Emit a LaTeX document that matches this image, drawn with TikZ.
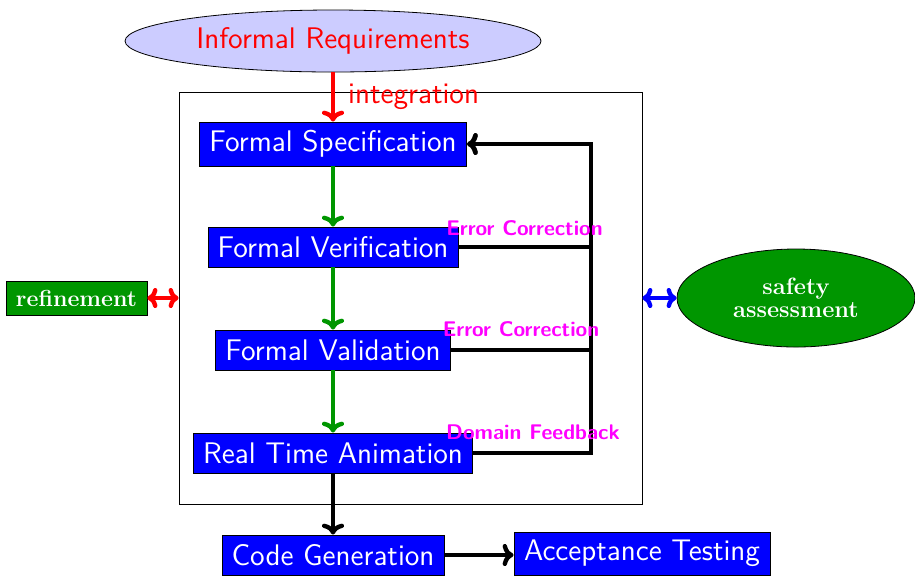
\documentclass[tikz,border=0pt]{standalone}
\usetikzlibrary{shapes.geometric,arrows.meta}
\definecolor{leaf}{RGB}{0,150,0}
\definecolor{pinkish}{RGB}{255,0,255}
\newcommand{\stagefont}{\sffamily\fontsize{14.9}{17}\selectfont}
\begin{document}
\begin{tikzpicture}[x=0.5pt,y=-0.5pt,
  stage/.style={draw=black, fill=blue, text=white, font=\stagefont,
    inner sep=0pt, minimum height=20pt},
  side/.style={draw=black, fill=leaf, text=white, inner sep=0pt},
  note/.style={text=pinkish, font=\sffamily\bfseries\fontsize{10.6}{12}\selectfont, inner sep=0pt},
  tip/.style={-{Computer Modern Rightarrow[length=5.5pt,width=11pt]}},
  both/.style={{Computer Modern Rightarrow[length=5pt,width=10pt]}-{Computer Modern Rightarrow[length=5pt,width=10pt]}},
  flow/.style={line width=2.2pt, tip},
  fb/.style={line width=2.4pt, black}]
\useasboundingbox (0,0) rectangle (915,575);

% surrounding frame of the formal stages
\node[draw=black, thin, minimum width=231.5pt, minimum height=206pt, inner sep=0pt]
  (frame) at (410.5,298) {};

% requirements and stages
\node[ellipse, draw=black, fill=blue!20, text=red, font=\stagefont,
  minimum width=208pt, minimum height=31pt, inner sep=0pt] (req) at (333,41) {Informal Requirements};
\node[stage, minimum width=133.5pt, minimum height=22pt] (spec) at (333,144) {Formal Specification};
\node[stage, minimum width=125pt] (ver) at (333,247) {Formal Verification};
\node[stage, minimum width=117.5pt] (val) at (333,350) {Formal Validation};
\node[stage, minimum width=139.5pt] (anim) at (333,453) {Real Time Animation};
\node[stage, minimum width=111pt] (code) at (333,555) {Code Generation};
\node[stage, minimum width=128pt, minimum height=21.5pt] (acc) at (642,553.5) {Acceptance Testing};

% side nodes
\node[side, font=\bfseries\fontsize{11.6}{13}\selectfont, minimum width=70.5pt, minimum height=17pt]
  (ref) at (76.5,298) {refinement};
\node[side, ellipse, align=center, font=\bfseries\fontsize{11.8}{12}\selectfont,
  minimum width=119pt, minimum height=49pt]
  (safe) at (796,298) {safety\\[-0.3pt]assessment};

% main flow
\draw[flow, red] (req) -- (spec)
  node[pos=0.5, anchor=west, inner sep=0pt, xshift=6.5pt, text=red, font=\stagefont] (integ) {integration};
\draw[flow, leaf] (spec) -- (ver);
\draw[flow, leaf] (ver) -- (val);
\draw[flow, leaf] (val) -- (anim);
\draw[flow, black] (anim) -- (code);
\draw[flow, black] (code.east) -- (code.east -| acc.west);

% side links
\draw[line width=2.2pt, red, both] (ref.east) -- (frame.west);
\draw[line width=2.2pt, blue, both] (frame.east) -- (safe.west);

% feedback bus
\coordinate (busTop) at (591,144);
\draw[fb] (ver.east) -- (ver.east -| busTop);
\draw[fb] (val.east) -- (val.east -| busTop);
\draw[fb, tip] (anim.east) -| (busTop) -- (spec.east);

% feedback labels
\node[note] (ec1) at (524.5,228) {Error Correction};
\node[note] (ec2) at (521,329.5) {Error Correction};
\node[note] (dfb) at (533,432.5) {Domain Feedback};
\end{tikzpicture}
\end{document}
